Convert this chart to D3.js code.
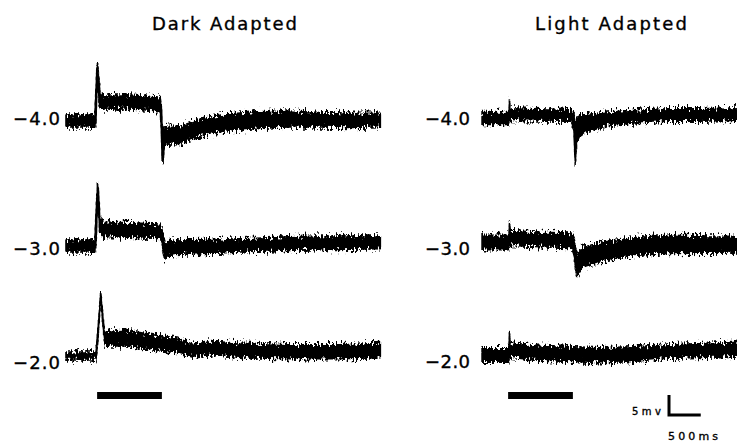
<!DOCTYPE html>
<html>
<head>
<meta charset="utf-8">
<script src="https://cdn.jsdelivr.net/npm/d3@7"></script>
<style>
  body { margin: 0; background: #fff; }
  svg { display: block; background: #fff; }
  text { font-family: "DejaVu Sans", "Liberation Sans", Arial, sans-serif; fill: #000; stroke: #000; stroke-width: 0.35px; }
</style>
</head>
<body>
<svg id="chart" width="737" height="442"></svg>
<script>
// Panel titles and intensity labels (log units)
const panelTitles = ["Dark Adapted", "Light Adapted"];
const intensityLabels = ["\u22124.0", "\u22123.0", "\u22122.0"];

// Stimulus window, ms
const stimulusMs = [490, 1510];

// Scale bar values
const scaleBarMs = 500;
const scaleBarMv = 5;

// Recorded responses: [time ms, envelope low mV, envelope high mV], relative to resting level
const dark4 = [
  [0, -1.5, 1.5], [455, -1.5, 1.5], [472, 0, 8], [490, 10, 14.5], [500, 9, 14],
  [520, 5, 10], [545, 3, 6.5], [600, 3, 6.5], [1000, 3.0, 6.5], [1450, 2.6, 6.0],
  [1485, 2.2, 5.6], [1500, -2, 4], [1515, -10, -1], [1528, -10.4, -2], [1545, -6.2, -1.8],
  [1600, -5.8, -1.3], [1800, -5.6, -1.3], [2100, -3.8, 0.4], [2500, -2.5, 1.7],
  [3000, -1.9, 2.3], [3500, -1.5, 2.5], [4000, -1.5, 2.1], [4500, -1.6, 1.9], [4950, -1.4, 1.9]
];
const dark3 = [
  [0, -1.5, 1.5], [455, -1.5, 1.5], [475, 1, 9], [497, 12, 15.7], [510, 9, 14],
  [530, 4, 8], [565, 2.4, 6.0], [1000, 2.2, 5.8], [1450, 1.9, 5.5], [1510, 1.0, 4.5],
  [1540, -2, 2], [1560, -3.5, 0.5], [1600, -2.6, 1.3], [1700, -2.1, 1.5], [2500, -1.7, 1.7],
  [3000, -1.3, 1.9], [3500, -1.1, 2.3], [4000, -0.9, 2.5], [4950, -0.7, 2.5]
];
const dark2 = [
  [0, -1, 1], [470, -1, 1], [490, 2, 4], [510, 6, 8], [530, 10.5, 12.5], [546, 14.5, 15.75],
  [565, 11, 13], [590, 6, 8], [615, 2.8, 5.5], [650, 2.5, 6.2], [950, 2.5, 6.4], [1420, 1.4, 5.2],
  [1750, 0.9, 4.5], [2000, -0.3, 2.9], [2300, 0.4, 3.6], [2800, -0.4, 3.2], [3500, -0.7, 2.8],
  [4300, -0.7, 2.8], [4950, -0.4, 3.1]
];
const light4 = [
  [80, -1.5, 1.5], [490, -1.5, 1.5], [505, -0.8, 1.8], [512, 0, 4.6], [520, -0.5, 2.7],
  [1000, -0.6, 2.4], [1490, -0.7, 2.2], [1525, -3, 1.5], [1548, -11.2, -2], [1570, -6, 0],
  [1610, -4.6, 0.9], [1730, -3.3, 1.0], [2050, -1.8, 1.6], [2460, -1.1, 2.0], [3000, -0.7, 2.4],
  [3500, -0.7, 2.4], [4200, -0.4, 2.7]
];
const light3 = [
  [80, -1.7, 1.9], [490, -1.7, 1.9], [505, -1, 2.5], [512, 0, 5], [525, -0.6, 3.1],
  [1000, -0.9, 2.7], [1480, -1.1, 2.5], [1510, -1.5, 2.2], [1540, -5, 0], [1575, -8.4, -3],
  [1650, -6.4, -1.2], [1940, -4.7, 0.1], [2460, -3.1, 1.3], [3000, -2.6, 1.9], [4200, -2.5, 1.6]
];
const light2 = [
  [80, -1.7, 1.7], [495, -1.7, 1.7], [505, -1, 3], [512, 0, 5.5], [522, -0.4, 3.1],
  [900, -1.1, 2.6], [1520, -1.5, 2.2], [1940, -1.8, 1.9], [2460, -1.5, 2.2], [2990, -0.7, 2.6],
  [3510, -0.5, 3.0], [4200, -0.1, 3.3]
];

const darkTraces = [dark4, dark3, dark2];
const lightTraces = [light4, light3, light2];

// ---- layout ----
const W = 737, H = 442;
const pxPerMs = 0.0635;
const pxPerMv = 4;

const svg = d3.select("#chart");

// Ragged edge for the noisy recordings
const defs = svg.append("defs");
const filt = defs.append("filter")
  .attr("id", "ragged")
  .attr("x", "-5%").attr("y", "-40%").attr("width", "110%").attr("height", "180%")
  .attr("color-interpolation-filters", "sRGB");
filt.append("feTurbulence")
  .attr("type", "fractalNoise").attr("baseFrequency", "0.55 0.25")
  .attr("numOctaves", 2).attr("seed", 7).attr("result", "turb");
filt.append("feColorMatrix")
  .attr("in", "turb").attr("type", "matrix")
  .attr("values", "0 0 0 0 0.5  0 1.8 0 0 -0.4  0 0 0 0 0  0 0 0 0 1")
  .attr("result", "map");
filt.append("feDisplacementMap")
  .attr("in", "SourceGraphic").attr("in2", "map")
  .attr("scale", 8).attr("xChannelSelector", "R").attr("yChannelSelector", "G");

const panels = [
  { title: panelTitles[0], titleX: 224.5, titleLen: 145,
    x: d3.scaleLinear().domain([0, 5000]).range([66, 66 + 5000 * pxPerMs]),
    traces: darkTraces, rows: [121, 246, 356], labelX: 13, labelLen: 47,
    labelY: [125, 255, 369] },
  { title: panelTitles[1], titleX: 611, titleLen: 152,
    x: d3.scaleLinear().domain([0, 5000]).range([477, 477 + 5000 * pxPerMs]),
    traces: lightTraces, rows: [118.5, 243, 355.5], labelX: 425, labelLen: 45,
    labelY: [125, 255, 368] }
];

// voltage (mV) -> vertical offset from a row's resting level
const yMv = d3.scaleLinear().domain([0, 1]).range([0, -pxPerMv]);

const clip = defs.append("clipPath").attr("id", "frame");
clip.append("rect").attr("x", 0).attr("y", 0).attr("width", W).attr("height", H);

const plot = svg.append("g").attr("clip-path", "url(#frame)");

panels.forEach(p => {
  plot.append("text")
    .attr("x", p.titleX).attr("y", 30)
    .attr("text-anchor", "middle")
    .attr("font-size", 18)
    .attr("textLength", p.titleLen).attr("lengthAdjust", "spacing")
    .text(p.title);

  const area = d3.area()
    .x(d => p.x(d[0]))
    .y0(d => yMv(d[1]))
    .y1(d => yMv(d[2]))
    .curve(d3.curveLinear);

  p.traces.forEach((trace, i) => {
    const row = plot.append("g").attr("transform", `translate(0,${p.rows[i]})`);
    row.append("path")
      .datum(trace)
      .attr("d", area)
      .attr("fill", "#000")
      .attr("stroke", "#000")
      .attr("stroke-width", 1.6)
      .attr("stroke-linejoin", "round")
      .attr("filter", "url(#ragged)");

    plot.append("text")
      .attr("x", p.labelX).attr("y", p.labelY[i])
      .attr("font-size", 18)
      .attr("textLength", p.labelLen).attr("lengthAdjust", "spacing")
      .text(intensityLabels[i]);
  });

  // stimulus bar
  plot.append("rect")
    .attr("x", p.x(stimulusMs[0]))
    .attr("y", 392)
    .attr("width", p.x(stimulusMs[1]) - p.x(stimulusMs[0]))
    .attr("height", 7)
    .attr("fill", "#000");
});

// ---- scale bar (right panel time base) ----
const xs = panels[1].x;
const barT0 = 3000;
const cornerX = xs(barT0) + 1.5;
const cornerY = 415;
const vLen = -yMv(scaleBarMv);
const hLen = xs(barT0 + scaleBarMs) - xs(barT0);

const sb = plot.append("g");
sb.append("path")
  .attr("d", `M${cornerX},${cornerY - vLen} V${cornerY} H${cornerX + hLen}`)
  .attr("fill", "none")
  .attr("stroke", "#000")
  .attr("stroke-width", 3)
  .attr("stroke-linecap", "butt")
  .attr("stroke-linejoin", "miter");

sb.append("text")
  .attr("x", cornerX - 37).attr("y", 415)
  .attr("font-size", 10)
  .attr("textLength", 29).attr("lengthAdjust", "spacing")
  .text(`${scaleBarMv}mv`);

sb.append("text")
  .attr("x", cornerX - 1).attr("y", 440)
  .attr("font-size", 11)
  .attr("textLength", 50).attr("lengthAdjust", "spacing")
  .text(`${scaleBarMs}ms`);
</script>
</body>
</html>
